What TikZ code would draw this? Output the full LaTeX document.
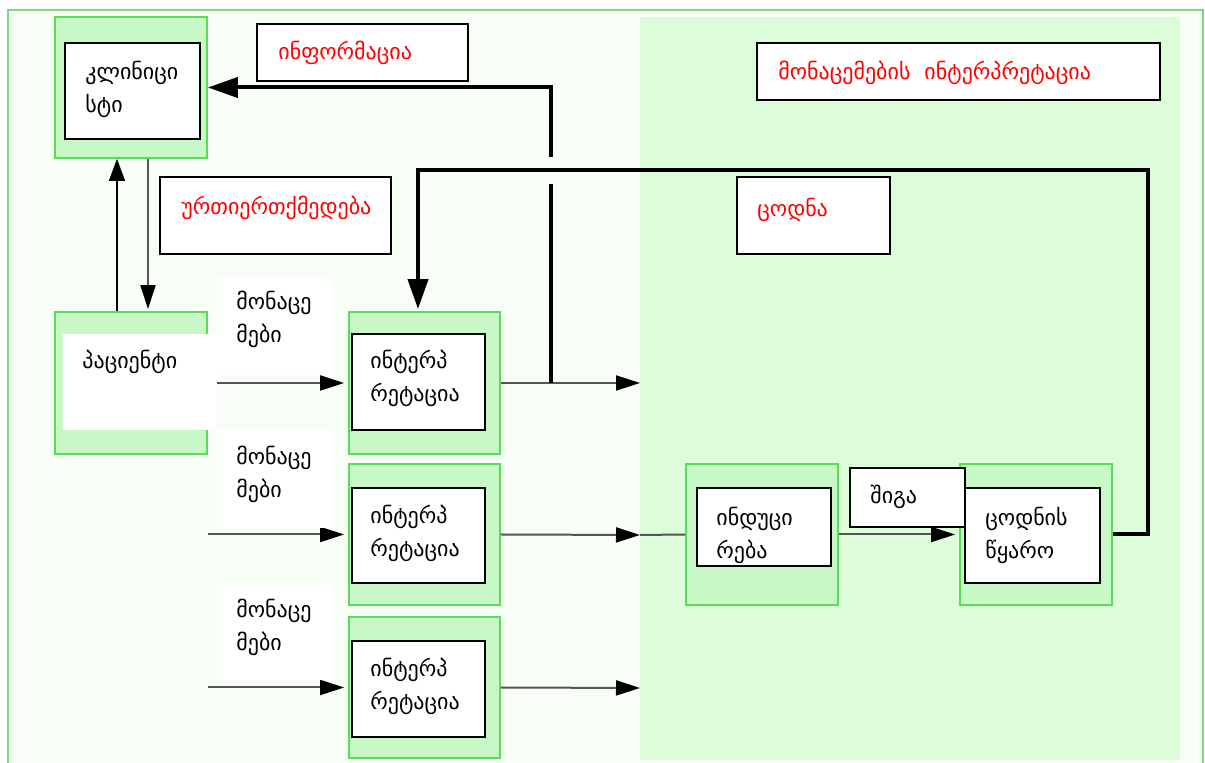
\documentclass[tikz,border=0pt]{standalone}
\usepackage{fontspec}
\setmainfont{DejaVu Sans}
\usetikzlibrary{arrows.meta,fit}
\definecolor{pagebg}{HTML}{F6FEF6}
\definecolor{panelbg}{HTML}{DCFCDA}
\definecolor{boxfill}{HTML}{C8F8C6}
\definecolor{boxline}{HTML}{5ADC5A}
\definecolor{frameline}{HTML}{78DE78}
\definecolor{labelred}{HTML}{FF0000}
\definecolor{flowgray}{HTML}{555555}

\begin{document}
\begin{tikzpicture}[x=0.5pt,y=-0.5pt,
  stage/.style={draw=boxline, line width=0.9pt, fill=boxfill, inner sep=0pt},
  card/.style={draw=black, line width=1pt, fill=white, inner sep=0pt},
  blank/.style={fill=white, inner sep=0pt},
  txt/.style={anchor=west, align=left, inner sep=0pt, font=\fontsize{11}{16.5}\selectfont},
  redtxt/.style={txt, text=labelred},
  flow/.style={draw=flowgray, line width=1pt, -{Triangle[length=12pt,width=7.5pt,color=black]}},
  plainflow/.style={draw=flowgray, line width=1pt},
  feedback/.style={draw=black, line width=2pt, -{Triangle[length=15pt,width=10pt]}},
  feedline/.style={draw=black, line width=2pt},
]
\useasboundingbox (0,0) rectangle (1205,763);
\clip (0,0) rectangle (1205,763);

% page frame and the data interpretation panel
\fill[white] (0,0) rectangle (1205,763);
\draw[frameline, line width=1pt, fill=pagebg] (8,10) rectangle (1203,780);
\fill[panelbg] (640,17) rectangle (1180,760);

% stage boxes
\node[stage, fit={(55,17) (207,158)}] (clinO) {};
\node[stage, fit={(55,312) (207,454)}] (patO) {};
\node[stage, fit={(349,312) (500,454)}] (int1O) {};
\node[stage, fit={(349,464) (500,605)}] (int2O) {};
\node[stage, fit={(349,617) (500,758)}] (int3O) {};
\node[stage, fit={(686,464) (838,605)}] (indO) {};
\node[stage, fit={(960,464) (1112,605)}] (ksO) {};

% clinician <-> patient
\draw[draw=black, line width=0.7pt, -{Triangle[length=11pt,width=8pt]}]
  ([xshift=-7pt]patO.north) -- ([xshift=-7pt]clinO.south);
\draw[flow, shorten >=1pt] ([xshift=8.5pt]clinO.south) -- ([xshift=8.5pt]patO.north);

% observations into interpretation
\draw[flow, shorten >=2pt] (patO.east) -- (int1O.west);
\draw[flow, shorten >=2pt] (patO.east |- int2O.west) -- (int2O.west);
\draw[flow, shorten >=2pt] (patO.east |- int3O.west) -- (int3O.west);

% interpretation outputs
\coordinate (out1) at (640,383);
\coordinate (out2) at (640,535);
\coordinate (out3) at (640,688);
\draw[flow] (int1O.east) -- (out1);
\draw[flow] (int2O.east) -- (out2);
\draw[plainflow] (out2) -- (indO.west);
\draw[flow] (int3O.east) -- (out3);
\draw[flow, shorten >=2pt] (indO.east) -- (ksO.west);

% information back to the clinician (broken where it crosses the knowledge line)
\coordinate (tap) at (551,383);
\coordinate (gapLo) at (551,184);
\coordinate (gapHi) at (551,157);
\draw[feedline] (tap) -- (gapLo);
\draw[feedback] (gapHi) |- (clinO.east);

% knowledge fed back into interpretation
\coordinate (loopR) at (1148,170);
\coordinate (loopL) at (418,170);
\draw[feedback, shorten >=1pt] (ksO.east) -| (loopR) -- (loopL) -- (loopL |- int1O.north);

% white label areas
\node[blank, fit={(63,334) (217,430)}] (patB) {};
\node[blank, fit={(217,278) (333,375)}] (data1B) {};
\node[blank, fit={(217,430) (333,528)}] (data2B) {};
\node[blank, fit={(217,584) (333,680)}] (data3B) {};

% framed labels and inner boxes
\node[card, fit={(257,24) (468,81)}] (infoB) {};
\node[card, fit={(160,177) (391,254)}] (interB) {};
\node[card, fit={(757,43) (1160,100)}] (mdataB) {};
\node[card, fit={(737,177) (890,254)}] (knowB) {};
\node[card, fit={(850,468) (965,527)}] (innerB) {};
\node[card, fit={(65,43) (200,139)}] (clinI) {};
\node[card, fit={(352,334) (485,430)}] (int1I) {};
\node[card, fit={(352,488) (485,583)}] (int2I) {};
\node[card, fit={(352,641) (485,737)}] (int3I) {};
\node[card, fit={(697,488) (831,566)}] (indI) {};
\node[card, fit={(965,488) (1100,583)}] (ksI) {};

% texts
\node[txt] (clinT) at (85,89) {კლინიცი\\სტი};
\node[redtxt] (infoT) at (278,53) {ინფორმაცია};
\node[redtxt] (interT) at (181,208) {ურთიერთქმედება};
\node[redtxt] (mdataT) at (778,73) {მონაცემების\ \ ინტერპრეტაცია};
\node[redtxt] (knowT) at (757,210) {ცოდნა};
\node[txt] (patT) at (82,362) {პაციენტი};
\node[txt] (data1T) at (236,319) {მონაცე\\მები};
\node[txt] (data2T) at (236,474) {მონაცე\\მები};
\node[txt] (data3T) at (236,627) {მონაცე\\მები};
\node[txt] (int1T) at (370,378) {ინტერპ\\რეტაცია};
\node[txt] (int2T) at (370,533) {ინტერპ\\რეტაცია};
\node[txt] (int3T) at (370,686) {ინტერპ\\რეტაცია};
\node[txt] (indT) at (716,535) {ინდუცი\\რება};
\node[txt] (ksT) at (985,535) {ცოდნის\\წყარო};
\node[txt] (innerT) at (870,497) {შიგა};
\end{tikzpicture}
\end{document}
